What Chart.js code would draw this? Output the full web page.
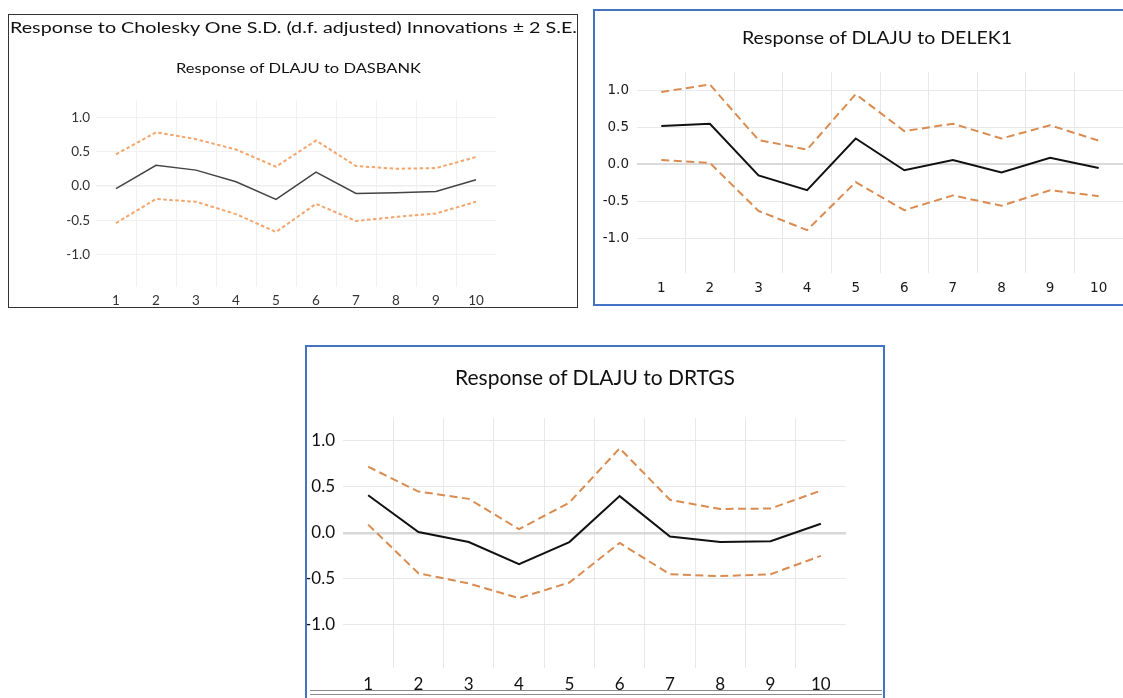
<!DOCTYPE html>
<html><head><meta charset="utf-8">
<script src="https://cdn.jsdelivr.net/npm/chart.js@4.4.1/dist/chart.umd.min.js"></script>
<style>
html,body{margin:0;padding:0;background:#fff;width:1123px;height:698px;overflow:hidden;position:relative;font-family:Lato,"Open Sans",sans-serif;}
canvas{position:absolute;left:0;top:0;}
.box{position:absolute;box-sizing:border-box;z-index:5;}
.t{position:absolute;white-space:nowrap;transform-origin:left top;line-height:1;color:#111;z-index:6;}
</style></head><body>
<canvas id="c1" width="1123" height="698"></canvas>
<canvas id="c2" width="1123" height="698"></canvas>
<canvas id="c3" width="1123" height="698"></canvas>

<div class="box" style="left:8px;top:14px;width:570px;height:294px;border:1.5px solid #333;"></div>
<div class="box" style="left:593px;top:9px;width:540px;height:297px;border:2px solid #4472C4;"></div>
<div class="box" style="left:305px;top:345px;width:580px;height:380px;border:2px solid #4472C4;"></div>
<div class="box" style="left:310px;top:690px;width:572px;height:5px;border-top:1.5px solid #8a8a8a;border-bottom:1.5px solid #8a8a8a;"></div>

<div class="t" data-x="10" data-w="567" data-cy="28" style="font-size:15.5px;">Response to Cholesky One S.D. (d.f. adjusted) Innovations ± 2 S.E.</div>
<div class="t" data-x="176" data-w="245" data-cy="68" style="font-size:14px;">Response of DLAJU to DASBANK</div>
<div class="t" data-x="742" data-w="270" data-cy="38" style="font-size:16.5px;">Response of DLAJU to DELEK1</div>
<div class="t" data-x="455" data-w="280" data-cy="377" style="font-size:20.5px;">Response of DLAJU to DRTGS</div>

<script>
// ---- data ----
const periods = ['1','2','3','4','5','6','7','8','9','10'];
const yTickValues = [-1.0, -0.5, 0.0, 0.5, 1.0];
const yMin = -1.47;
const yMax = 1.25;

const dasbankResponse = [-0.04, 0.30, 0.23, 0.06, -0.195, 0.20, -0.11, -0.10, -0.08, 0.09];
const dasbankUpper    = [0.46, 0.78, 0.68, 0.53, 0.28, 0.66, 0.29, 0.25, 0.26, 0.42];
const dasbankLower    = [-0.54, -0.19, -0.23, -0.41, -0.67, -0.26, -0.51, -0.45, -0.40, -0.23];

const delekResponse = [0.52, 0.55, -0.15, -0.35, 0.35, -0.08, 0.06, -0.11, 0.09, -0.05];
const delekUpper    = [0.98, 1.08, 0.33, 0.20, 0.95, 0.45, 0.55, 0.35, 0.53, 0.32];
const delekLower    = [0.06, 0.02, -0.63, -0.89, -0.24, -0.62, -0.42, -0.56, -0.35, -0.43];

const rtgsResponse = [0.41, 0.01, -0.10, -0.34, -0.10, 0.40, -0.04, -0.10, -0.09, 0.10];
const rtgsUpper    = [0.72, 0.45, 0.37, 0.04, 0.33, 0.92, 0.36, 0.26, 0.265, 0.46];
const rtgsLower    = [0.09, -0.44, -0.55, -0.71, -0.54, -0.11, -0.45, -0.47, -0.45, -0.25];

// ---- layout helpers ----
const W = 1123, H = 698, YW = 60, XH = 24;
const CLEAR = 'rgba(0,0,0,0)';

function panel(id, area, resp, upper, lower, st) {
  return new Chart(document.getElementById(id), {
    type: 'line',
    data: {
      labels: periods,
      datasets: [
        {data: resp, borderColor: st.line, borderWidth: st.lineW, pointRadius: 0, tension: 0, fill: false},
        {data: upper, borderColor: st.band, borderWidth: st.bandW, borderDash: st.dash, pointRadius: 0, tension: 0, fill: false},
        {data: lower, borderColor: st.band, borderWidth: st.bandW, borderDash: st.dash, pointRadius: 0, tension: 0, fill: false}
      ]
    },
    options: {
      responsive: false, animation: false, devicePixelRatio: 1,
      events: [],
      layout: {padding: {left: area.l - YW, right: W - area.r, top: area.t, bottom: H - area.b - XH}},
      plugins: {legend: {display: false}, tooltip: {enabled: false}, title: {display: false}},
      scales: {
        x: {
          type: 'category', offset: true,
          grid: {offset: true, drawTicks: false, lineWidth: 1,
            color: c => (c.type !== 'tick' || c.index === 0 || c.index >= periods.length) ? CLEAR : st.grid},
          border: {display: false},
          ticks: {padding: st.xPad, autoSkip: false, maxRotation: 0,
            font: {family: st.font, size: st.xSize}, color: st.text},
          afterFit: s => { s.height = XH; s.paddingLeft = 0; s.paddingRight = 0; }
        },
        y: {
          type: 'linear', min: yMin, max: yMax,
          afterBuildTicks: s => { s.ticks = yTickValues.map(v => ({value: v})); },
          grid: {drawTicks: false,
            color: c => (c.tick && c.tick.value === 0) ? st.zero : st.grid,
            lineWidth: c => (c.tick && c.tick.value === 0) ? st.zeroW : 1},
          border: {display: false},
          ticks: {padding: st.yPad, font: {family: st.font, size: st.ySize}, color: st.text,
            callback: v => Number(v).toFixed(1)},
          afterFit: s => { s.width = YW; s.paddingTop = 0; s.paddingBottom = 0; }
        }
      }
    }
  });
}

panel('c1', {l: 96, r: 496, t: 100, b: 287}, dasbankResponse, dasbankUpper, dasbankLower, {
  line: '#444444', lineW: 1.5, band: '#F4A56C', bandW: 2, dash: [3.5, 2.5],
  grid: '#f1f1f1', zero: '#eeeeee', zeroW: 1.5,
  font: 'Lato', xSize: 13.5, ySize: 13.5, text: '#333333', xPad: 6, yPad: 6
});
panel('c2', {l: 637, r: 1123, t: 72, b: 273}, delekResponse, delekUpper, delekLower, {
  line: '#111111', lineW: 2, band: '#D98B50', bandW: 2, dash: [8, 4.5],
  grid: '#e8e8e8', zero: '#dadada', zeroW: 2,
  font: 'DejaVu Sans', xSize: 13.5, ySize: 13.5, text: '#1a1a1a', xPad: 7, yPad: 8
});
panel('c3', {l: 343, r: 846, t: 418, b: 668}, rtgsResponse, rtgsUpper, rtgsLower, {
  line: '#111111', lineW: 2, band: '#D98B50', bandW: 2, dash: [8, 4.5],
  grid: '#e8e8e8', zero: '#d8d8d8', zeroW: 2.5,
  font: 'Lato', xSize: 17, ySize: 17, text: '#111111', xPad: 6, yPad: 8
});

// fit title texts to their measured widths
document.querySelectorAll('.t').forEach(el => {
  const r = el.getBoundingClientRect();
  const sx = parseFloat(el.dataset.w) / r.width;
  el.style.left = el.dataset.x + 'px';
  el.style.top = (parseFloat(el.dataset.cy) - r.height / 2) + 'px';
  el.style.transform = 'scaleX(' + sx + ')';
});
</script>
</body></html>
